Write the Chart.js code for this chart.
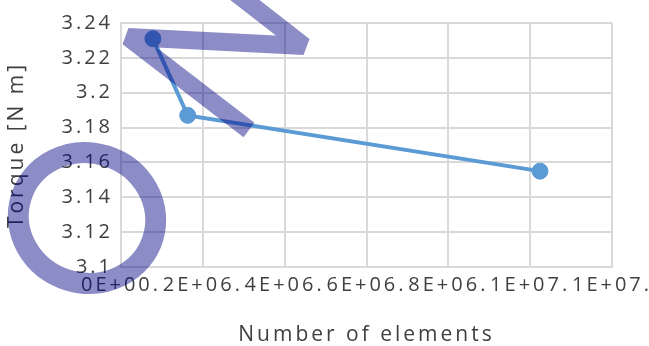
<!DOCTYPE html>
<html>
<head>
<meta charset="utf-8">
<script src="https://cdn.jsdelivr.net/npm/chart.js@4.4.1/dist/chart.umd.min.js"></script>
<style>
  html, body { margin: 0; padding: 0; background: #fff; }
  #wrap { width: 649px; height: 346px; }
</style>
</head>
<body>
<div id="wrap"><canvas id="torqueChart"></canvas></div>
<script>
// --- data ---
const elements = [780000, 1630000, 10240000];
const torque = [3.231, 3.187, 3.155];
const xTickLabels = ['0E+00.', '2E+06.', '4E+06.', '6E+06.', '8E+06.', '1E+07.', '1E+07.'];
const yTickLabels = ['3.1', '3.12', '3.14', '3.16', '3.18', '3.2', '3.22', '3.24'];

// pen marks scribbled over the picture (canvas pixels, not data)
const penZigzag = [[232, -10], [304, 46], [128, 37], [249, 130]];
const penRing = { x: 87, y: 218, rx: 69, ry: 65, angle: 0.3 };

const textColor = '#404040';
const gridColor = '#d9d9d9';
const tickFont = { family: 'Open Sans', size: 20 };
const titleFont = { family: 'Open Sans', size: 21 };

// wide spacing of the text in the picture
const letterSpacing = {
  id: 'letterSpacing',
  beforeUpdate(chart) { chart.ctx.letterSpacing = '3px'; },
  beforeDraw(chart) { chart.ctx.letterSpacing = '3px'; }
};

const penMarks = {
  id: 'penMarks',
  afterDraw(chart) {
    const ctx = chart.ctx;
    ctx.save();
    ctx.strokeStyle = 'rgba(0, 0, 128, 0.45)';
    ctx.lineCap = 'butt';
    ctx.lineJoin = 'bevel';
    ctx.lineWidth = 18;
    ctx.beginPath();
    penZigzag.forEach(([x, y], i) => i ? ctx.lineTo(x, y) : ctx.moveTo(x, y));
    ctx.stroke();
    ctx.lineWidth = 21;
    ctx.beginPath();
    ctx.ellipse(penRing.x, penRing.y, penRing.rx, penRing.ry, penRing.angle, 0, Math.PI * 2);
    ctx.stroke();
    ctx.restore();
  }
};

new Chart(document.getElementById('torqueChart'), {
  type: 'line',
  data: {
    datasets: [{
      data: elements.map((x, i) => ({ x: x, y: torque[i] })),
      borderColor: '#5B9BD5',
      backgroundColor: '#5B9BD5',
      borderWidth: 4,
      pointRadius: 8,
      pointBorderWidth: 1,
      pointBackgroundColor: '#5B9BD5',
      pointBorderColor: '#5B9BD5',
      tension: 0
    }]
  },
  options: {
    responsive: true,
    maintainAspectRatio: false,
    animation: false,
    layout: { padding: { top: 23, right: 37, left: 0, bottom: 0 } },
    plugins: { legend: { display: false }, tooltip: { enabled: false } },
    scales: {
      x: {
        type: 'linear',
        min: 0,
        max: 12000000,
        grid: { color: gridColor, lineWidth: 2, drawTicks: false },
        border: { color: gridColor, width: 2 },
        ticks: {
          stepSize: 2000000,
          autoSkip: false,
          maxRotation: 0,
          minRotation: 0,
          padding: 6,
          color: textColor,
          font: tickFont,
          callback: (v, i) => xTickLabels[i]
        },
        title: {
          display: true,
          text: 'Number of elements',
          color: textColor,
          font: { family: 'Open Sans', size: 21, lineHeight: 1 },
          padding: { top: 0, bottom: 0 }
        },
        afterFit(s) { s.height = 79; s.paddingLeft = 0; s.paddingRight = 0; }
      },
      y: {
        min: 3.1,
        max: 3.24,
        grid: { color: gridColor, lineWidth: 2, drawTicks: false },
        border: { color: gridColor, width: 2 },
        ticks: {
          stepSize: 0.02,
          padding: 8,
          color: textColor,
          font: tickFont,
          callback: (v, i) => yTickLabels[i]
        },
        title: {
          display: true,
          text: 'Torque [N m]',
          color: textColor,
          font: titleFont,
          padding: { top: 4, bottom: 0 }
        },
        afterFit(s) { s.width = 121; s.paddingTop = 0; s.paddingBottom = 0; }
      }
    }
  },
  plugins: [letterSpacing, penMarks]
});
</script>
</body>
</html>
